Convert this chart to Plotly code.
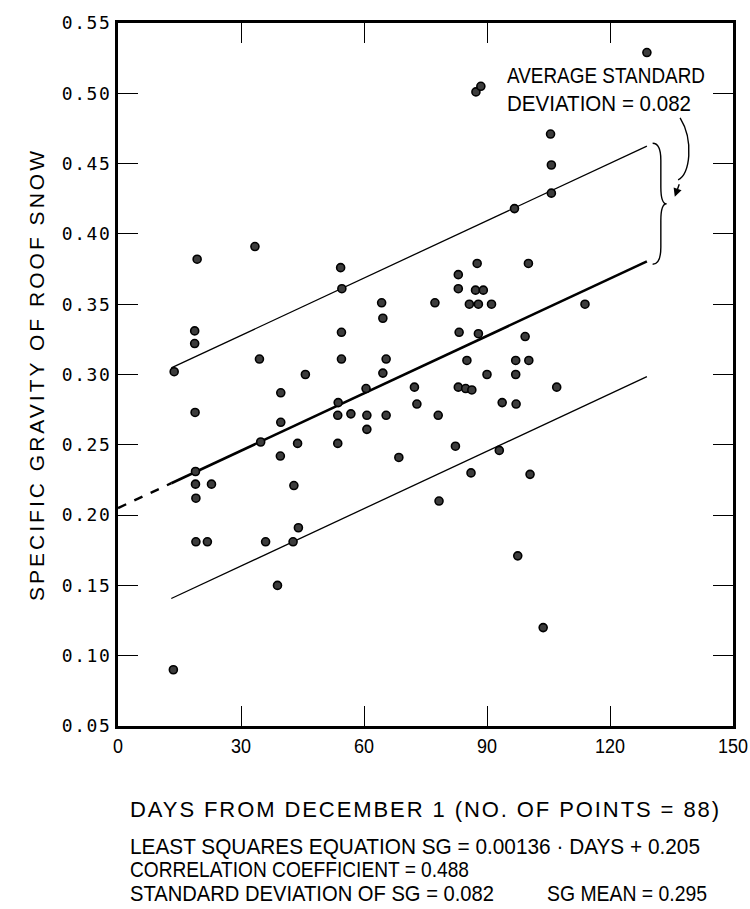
import json
import plotly.graph_objects as go

# ---- data ----
days = [13.5, 13.7, 18.7, 18.7, 19.3, 18.8, 18.9, 18.9, 19.0, 19.0,
        22.8, 21.8, 33.4, 34.5, 34.8, 36.0, 38.9, 39.7, 39.7, 39.6,
        42.9, 42.7, 43.8, 44.0, 45.7, 54.3, 54.6, 54.5, 54.5, 53.7,
        53.6, 53.6, 56.8, 60.5, 60.7, 60.7, 64.3, 64.6, 64.6, 65.4,
        65.4, 68.5, 72.3, 72.9, 77.3, 78.1, 78.3, 83.0, 83.0, 83.2,
        83.0, 84.8, 86.3, 82.3, 85.1, 85.7, 86.1, 87.6, 87.2, 89.1,
        87.9, 87.9, 91.1, 90.0, 87.3, 88.5, 93.0, 93.7, 96.7, 97.0,
        97.0, 97.1, 97.5, 99.3, 100.1, 100.2, 100.5, 103.7, 105.5, 105.7,
        105.7, 107.0, 113.9, 129.0]
sg = [0.090, 0.302, 0.331, 0.322, 0.382, 0.273, 0.231, 0.222, 0.212, 0.181,
      0.222, 0.181, 0.391, 0.311, 0.252, 0.181, 0.150, 0.287, 0.266, 0.242,
      0.221, 0.181, 0.251, 0.191, 0.300, 0.376, 0.361, 0.330, 0.311, 0.280,
      0.271, 0.251, 0.272, 0.290, 0.271, 0.261, 0.351, 0.340, 0.301, 0.311,
      0.271, 0.241, 0.291, 0.279, 0.351, 0.271, 0.210, 0.371, 0.361, 0.330,
      0.291, 0.290, 0.289, 0.249, 0.310, 0.350, 0.230, 0.379, 0.360, 0.360,
      0.350, 0.329, 0.350, 0.300, 0.501, 0.505, 0.246, 0.280, 0.418, 0.310,
      0.300, 0.279, 0.171, 0.327, 0.379, 0.310, 0.229, 0.120, 0.471, 0.449,
      0.429, 0.291, 0.350, 0.529]

SLOPE = 0.00136
INTERCEPT = 0.205
STD_DEV = 0.082
FIT_START = 13.0
FIT_END = 129.0

x_ticks = [0, 30, 60, 90, 120, 150]
x_tick_text = [str(v) for v in x_ticks]
y_ticks = [0.05, 0.10, 0.15, 0.20, 0.25, 0.30, 0.35, 0.40, 0.45, 0.50, 0.55]
y_tick_text = [f"{v:.2f}" for v in y_ticks]

Y_TITLE = "SPECIFIC GRAVITY OF ROOF SNOW"
X_TITLE = "DAYS FROM DECEMBER 1 (NO. OF POINTS = 88)"
NOTE_LINES = ["LEAST SQUARES EQUATION SG = 0.00136 \u00b7 DAYS + 0.205",
              "CORRELATION COEFFICIENT = 0.488",
              "STANDARD DEVIATION OF SG = 0.082"]
MEAN_NOTE = "SG MEAN = 0.295"
SD_LABEL = ["AVERAGE STANDARD", "DEVIATION = 0.082"]

SANS = "Liberation Sans, Arial, sans-serif"
MONO = "DejaVu Sans Mono, Liberation Mono, monospace"


def fit(d, off=0.0):
    return SLOPE * d + INTERCEPT + off


fig = go.Figure()

# dashed extrapolation of the regression line
fig.add_trace(go.Scatter(x=[0, FIT_START], y=[fit(0), fit(FIT_START)], mode="lines",
                         line=dict(color="black", width=2.4, dash="dash"),
                         showlegend=False, hoverinfo="skip"))
# regression line
fig.add_trace(go.Scatter(x=[FIT_START, FIT_END], y=[fit(FIT_START), fit(FIT_END)], mode="lines",
                         line=dict(color="black", width=2.6), showlegend=False, hoverinfo="skip"))
# +/- one standard deviation
for off in (STD_DEV, -STD_DEV):
    fig.add_trace(go.Scatter(x=[FIT_START, FIT_END], y=[fit(FIT_START, off), fit(FIT_END, off)],
                             mode="lines", line=dict(color="black", width=1.3),
                             showlegend=False, hoverinfo="skip"))

# observations
fig.add_trace(go.Scatter(x=days, y=sg, mode="markers",
                         marker=dict(symbol="circle", size=8, color="#3c3c3c",
                                     line=dict(color="black", width=1.6)),
                         showlegend=False))

# brace spanning one standard deviation at the end of the lines
y_top = fit(FIT_END, STD_DEV) + 0.002
y_bot = fit(FIT_END) - 0.002
y_mid = (y_top + y_bot) / 2
x0 = FIT_END + 1.4
xb = FIT_END + 3.4
xt = FIT_END + 4.8
r = 0.012
brace = (f"M {x0},{y_top} Q {xb},{y_top} {xb},{y_top - r} "
         f"L {xb},{y_mid + r} Q {xb},{y_mid} {xt},{y_mid} "
         f"Q {xb},{y_mid} {xb},{y_mid - r} "
         f"L {xb},{y_bot + r} Q {xb},{y_bot} {x0},{y_bot}")
fig.add_shape(type="path", path=brace, xref="x", yref="y",
              line=dict(color="black", width=1.4))

# curved arrow from the label to the brace
ax0, ay0 = FIT_END + 8.1, y_mid + 0.061
ax1, ay1 = FIT_END + 6.8, y_mid + 0.005
arrow = (f"M {ax0},{ay0} C {FIT_END + 11.5},{y_mid + 0.045} "
         f"{FIT_END + 10.5},{y_mid + 0.02} {ax1 + 0.8},{ay1 + 0.012}")
fig.add_shape(type="path", path=arrow, xref="x", yref="y",
              line=dict(color="black", width=1.4))
fig.add_annotation(x=ax1, y=ay1, ax=5, ay=-14, xref="x", yref="y",
                   text="", showarrow=True, arrowhead=2, arrowsize=1.2,
                   arrowwidth=1.4, arrowcolor="black")

for i, t in enumerate(SD_LABEL):
    fig.add_annotation(x=94.3, y=0.513 - i * 0.020, xref="x", yref="y", xanchor="left",
                       yanchor="middle", text=t, showarrow=False, align="left",
                       font=dict(family=SANS, size=22, color="black"))

# text block below the chart
for i, t in enumerate(NOTE_LINES):
    fig.add_annotation(x=0.0163, y=-0.1707 - i * 0.0341, xref="paper", yref="paper",
                       xanchor="left", yanchor="middle", text=t, showarrow=False, align="left",
                       font=dict(family=SANS, size=22, color="black"))
fig.add_annotation(x=0.694, y=-0.1707 - 2 * 0.0341, xref="paper", yref="paper",
                   xanchor="left", yanchor="middle", text=MEAN_NOTE, showarrow=False, align="left",
                   font=dict(family=SANS, size=22, color="black"))

axis_common = dict(showline=True, linecolor="black", linewidth=3, mirror="ticks",
                   ticks="inside", ticklen=20, tickwidth=1.4, tickcolor="black",
                   showgrid=False, zeroline=False)

fig.update_xaxes(range=[0, 150], tickvals=x_ticks, ticktext=x_tick_text,
                 tickfont=dict(family=SANS, size=20, color="black"),
                 ticklabeloverflow="allow",
                 title=dict(text=X_TITLE, font=dict(family=SANS, size=22, color="black"),
                            standoff=46),
                 **axis_common)
fig.update_yaxes(range=[0.05, 0.55], tickvals=y_ticks, ticktext=y_tick_text,
                 tickfont=dict(family=MONO, size=18, color="black"),
                 title=dict(text=Y_TITLE, font=dict(family=SANS, size=21, color="black"),
                            standoff=18),
                 **axis_common)

fig.update_layout(width=750, height=909,
                  margin=dict(l=118, r=17, t=23, b=183, autoexpand=False),
                  plot_bgcolor="white", paper_bgcolor="white", showlegend=False)

# typewriter-style texts: spread ("s") or condense ("g") them to the reference widths
targets = {Y_TITLE: [450, "s"], X_TITLE: [589, "s"],
           NOTE_LINES[0]: [570, "g"], NOTE_LINES[1]: [339, "g"], NOTE_LINES[2]: [364, "g"],
           MEAN_NOTE: [160, "g"], SD_LABEL[0]: [198, "g"], SD_LABEL[1]: [184, "g"]}
for t in y_tick_text:
    targets[t] = [48, "s"]
for t in x_tick_text:
    targets[t] = [10 * len(t), "g"]
post = ("document.body.style.margin='0';document.body.style.overflow='hidden';"
        "var gd=document.getElementById('{plot_id}');var T=" + json.dumps(targets) + ";"
        "gd.querySelectorAll('text').forEach(function(e){var s=e.textContent;"
        "if(!T.hasOwnProperty(s))return;var w=T[s][0];"
        "if(T[s][1]==='g'){e.setAttribute('textLength',w);"
        "e.setAttribute('lengthAdjust','spacingAndGlyphs');}"
        "else if(s.length>1){var L=e.getComputedTextLength();"
        "e.style.letterSpacing=((w-L)/(s.length-1))+'px';}});")

fig.write_html("out.html", post_script=post, config={"displayModeBar": False})
